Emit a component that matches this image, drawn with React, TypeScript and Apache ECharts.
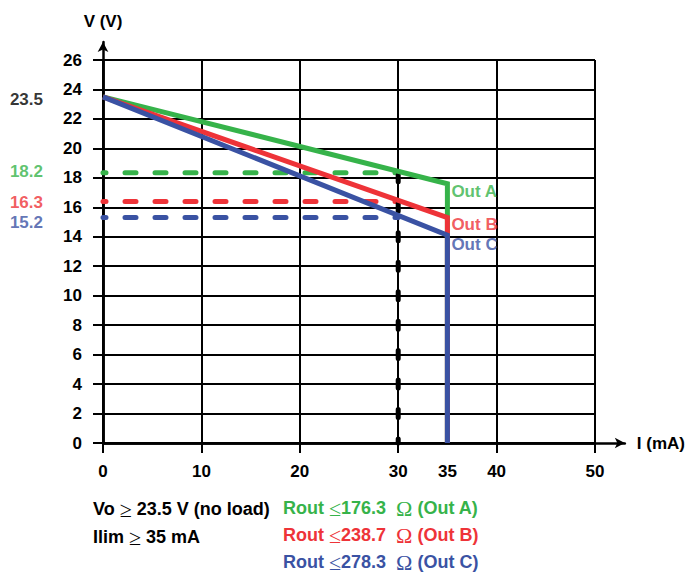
import React, { useEffect, useRef } from "react";
import * as echarts from "echarts";

// ---- data ----
const xMin = 0;
const xMax = 50;
const xInterval = 10;
const xExtraTick = 35;
const yMin = 0;
const yMax = 26;
const yInterval = 2;

const outA = [[0, 23.5], [35, 17.6], [35, 0]];
const outB = [[0, 23.5], [35, 15.3], [35, 0]];
const outC = [[0, 23.5], [35, 14.1], [35, 0]];

const dashA = [[0, 18.35], [30, 18.35]];
const dashB = [[0, 16.4], [30, 16.4]];
const dashC = [[0, 15.3], [30, 15.3]];
const limitLine = [[30, 0], [30, 18.2]];

const leftLabelTexts = ["23.5", "18.2", "16.3", "15.2"];
const leftLabelY = [23.3, 18.4, 16.3, 15.0];
const outNames = ["Out A", "Out B", "Out C"];
const outLabelY = [17.05, 14.85, 13.5];
const routValues = ["176.3", "238.7", "278.3"];
const noLoadText = "Vo ≥ 23.5 V (no load)";
const ilimText = "Ilim ≥ 35 mA";

// ---- styles ----
const FONT = "'Liberation Sans', Arial, sans-serif";
const SERIF = "'Liberation Serif', 'Times New Roman', serif";
const GREEN = "#36b34a";
const RED = "#ee3338";
const BLUE = "#3a52a3";
const BLACK = "#000000";
const seriesColors = [GREEN, RED, BLUE];
const leftLabelColors = [BLACK, GREEN, RED, BLUE];

const tickLabel = { fontSize: 17, fontWeight: "bold", color: BLACK, fontFamily: FONT };

export default function App() {
  const ref = useRef<HTMLDivElement>(null);

  useEffect(() => {
    document.body.style.margin = "0";
    if (!ref.current) return;
    const chart = echarts.init(ref.current, undefined, { renderer: "svg" });

    const solid = (name: string, data: number[][], color: string) => ({
      name,
      type: "line",
      xAxisIndex: 0,
      yAxisIndex: 0,
      data,
      symbol: "none",
      clip: false,
      lineStyle: { color, width: 5, cap: "butt", join: "miter" },
      z: 5,
    });
    const dashed = (name: string, data: number[][], color: string) => ({
      name,
      type: "line",
      xAxisIndex: 0,
      yAxisIndex: 0,
      data,
      symbol: "none",
      clip: false,
      lineStyle: { color, width: 5, type: [11, 19], dashOffset: 8, cap: "round" },
      z: 3,
    });

    const richFor = (color: string) => ({
      b: { fontSize: 18, fontWeight: "bold", fontFamily: FONT, fill: color },
      s: { fontSize: 22, fontWeight: "normal", fontFamily: SERIF, fill: color },
    });
    const symText = (t: string) =>
      t
        .split(/([≥≤Ω])/)
        .filter((p) => p.length > 0)
        .map((p) => (/[≥≤Ω]/.test(p) ? `{s|${p}}` : `{b|${p}}`))
        .join("");

    const bottomLeft = [noLoadText, ilimText];
    const bottomLeftY = [509, 537];
    const routY = [508, 535, 562];

    const graphics: any[] = [];
    bottomLeft.forEach((t, i) => {
      graphics.push({
        type: "text",
        x: 93,
        y: bottomLeftY[i],
        style: { text: symText(t), rich: richFor(BLACK), verticalAlign: "middle", align: "left" },
      });
    });
    routValues.forEach((v, i) => {
      graphics.push({
        type: "text",
        x: 283,
        y: routY[i],
        style: {
          text: symText(`Rout ≤${v}  Ω (${outNames[i]})`),
          rich: richFor(seriesColors[i]),
          verticalAlign: "middle",
          align: "left",
        },
      });
    });

    const option: any = {
      animation: false,
      grid: [
        { left: 103, right: 93, top: 60, bottom: 133 },
        { left: 103, right: 63, top: 60, bottom: 133 },
        { left: 103, right: 93, top: 42, bottom: 133 },
      ],
      xAxis: [
        {
          gridIndex: 0,
          type: "value",
          min: xMin,
          max: xMax,
          interval: xInterval,
          axisLine: { show: true, onZero: false, lineStyle: { color: BLACK, width: 2.5 } },
          axisTick: { show: true, length: 10, lineStyle: { color: BLACK, width: 2 } },
          axisLabel: { ...tickLabel, margin: 20 },
          splitLine: { show: true, lineStyle: { color: BLACK, width: 2 } },
        },
        {
          gridIndex: 0,
          type: "value",
          position: "bottom",
          min: xMin,
          max: xMax,
          interval: xExtraTick,
          axisLine: { show: false, onZero: false },
          axisTick: { show: false },
          splitLine: { show: false },
          axisLabel: {
            ...tickLabel,
            margin: 20,
            formatter: (v: number) => (v === xExtraTick ? String(xExtraTick) : ""),
          },
        },
        {
          gridIndex: 1,
          type: "value",
          min: 0,
          max: 1,
          name: "I (mA)",
          nameLocation: "end",
          nameGap: 12,
          nameTextStyle: { ...tickLabel, verticalAlign: "middle" },
          axisLine: {
            show: true,
            onZero: false,
            symbol: ["none", "arrow"],
            symbolSize: [8, 10],
            lineStyle: { color: BLACK, width: 2.5 },
          },
          axisTick: { show: false },
          axisLabel: { show: false },
          splitLine: { show: false },
        },
        { gridIndex: 2, type: "value", show: false, min: 0, max: 1 },
      ],
      yAxis: [
        {
          gridIndex: 0,
          type: "value",
          min: yMin,
          max: yMax,
          interval: yInterval,
          axisLine: { show: true, onZero: false, lineStyle: { color: BLACK, width: 2.5 } },
          axisTick: { show: true, length: 10, lineStyle: { color: BLACK, width: 2 } },
          axisLabel: { ...tickLabel, margin: 21 },
          splitLine: { show: true, lineStyle: { color: BLACK, width: 2 } },
        },
        { gridIndex: 1, type: "value", show: false, min: 0, max: 1 },
        {
          gridIndex: 2,
          type: "value",
          min: 0,
          max: 1,
          name: "V (V)",
          nameLocation: "end",
          nameGap: 12,
          nameTextStyle: { ...tickLabel },
          axisLine: {
            show: true,
            onZero: false,
            symbol: ["none", "arrow"],
            symbolSize: [8, 10],
            lineStyle: { color: BLACK, width: 2.5 },
          },
          axisTick: { show: false },
          axisLabel: { show: false },
          splitLine: { show: false },
        },
      ],
      series: [
        dashed("dashA", dashA, GREEN),
        dashed("dashB", dashB, RED),
        dashed("dashC", dashC, BLUE),
        {
          name: "limit",
          type: "line",
          xAxisIndex: 0,
          yAxisIndex: 0,
          data: limitLine,
          symbol: "none",
          clip: false,
          lineStyle: { color: BLACK, width: 5, type: [8, 21.46], dashOffset: 4, cap: "round" },
          z: 4,
        },
        solid("Out A", outA, GREEN),
        solid("Out B", outB, RED),
        solid("Out C", outC, BLUE),
        {
          name: "leftLabels",
          type: "scatter",
          xAxisIndex: 0,
          yAxisIndex: 0,
          symbolSize: 0,
          clip: false,
          silent: true,
          z: 6,
          data: leftLabelTexts.map((t, i) => ({
            value: [0, leftLabelY[i]],
            label: {
              show: true,
              position: "left",
              distance: 60,
              formatter: t,
              fontSize: 17,
              fontWeight: "bold",
              fontFamily: FONT,
              color: leftLabelColors[i],
            },
          })),
        },
        {
          name: "outLabels",
          type: "scatter",
          xAxisIndex: 0,
          yAxisIndex: 0,
          symbolSize: 0,
          clip: false,
          silent: true,
          z: 6,
          data: outNames.map((t, i) => ({
            value: [35, outLabelY[i]],
            label: {
              show: true,
              position: "right",
              distance: 4,
              formatter: t,
              fontSize: 17,
              fontWeight: "bold",
              fontFamily: FONT,
              color: seriesColors[i],
            },
          })),
        },
      ],
      graphic: graphics,
    };

    chart.setOption(option);
    return () => chart.dispose();
  }, []);

  return <div ref={ref} style={{ width: 688, height: 576 }} />;
}
